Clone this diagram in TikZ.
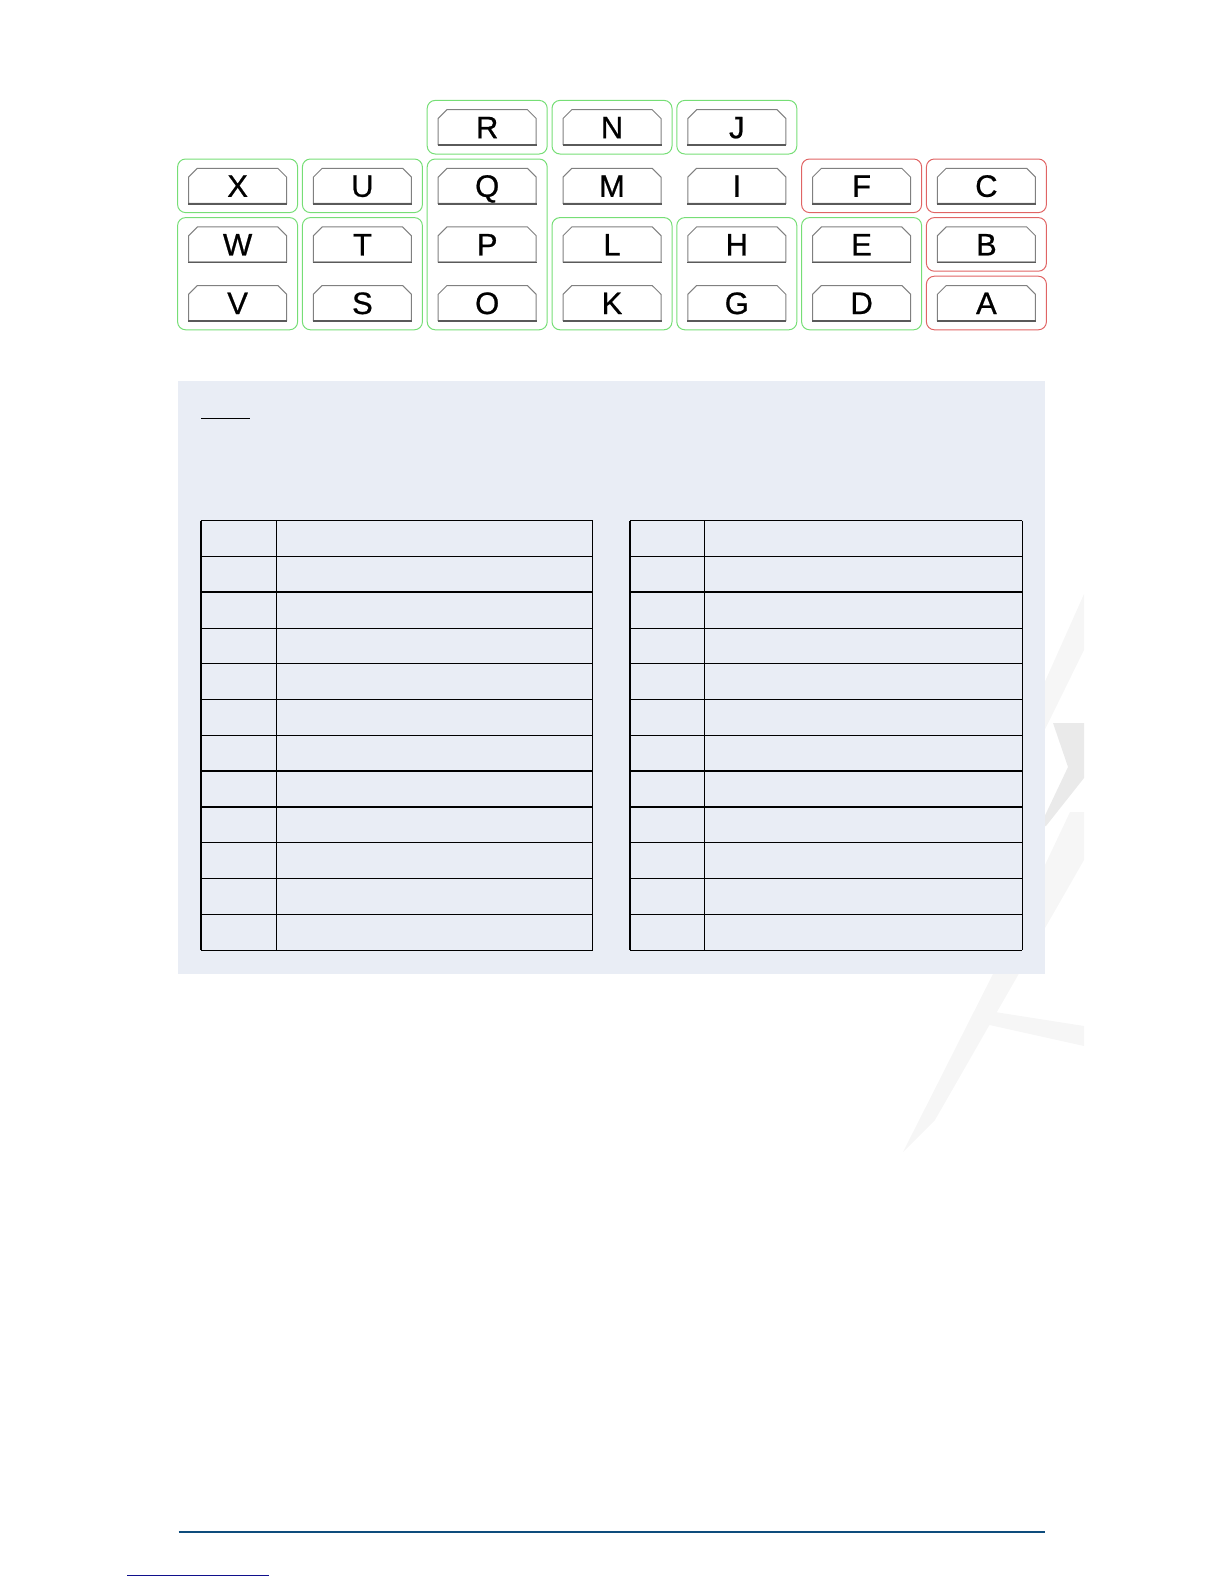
\documentclass[tikz,border=0pt]{standalone}
\usepackage{fontspec}
\setmainfont{Liberation Sans}
\newfontfamily\fusefont[FakeBold=0.7]{Liberation Sans}
\usetikzlibrary{positioning,fit,shapes.misc}
\definecolor{fbgreen}{HTML}{76DE76}
\definecolor{fbred}{HTML}{E06464}
\definecolor{fbgrey}{HTML}{808080}
\definecolor{fbedge}{HTML}{5A5A5A}
\definecolor{fbpanel}{HTML}{E9EDF5}
\definecolor{fbline}{HTML}{0E4C7C}
\definecolor{fbnavy}{HTML}{10108C}
\definecolor{fbmark}{HTML}{F6F6F6}
\definecolor{fbmarkdk}{HTML}{EAEAEA}
\tikzset{
  fuse/.style    ={chamfered rectangle, chamfered rectangle corners={north west,north east},
                   chamfered rectangle xsep=2.2pt, chamfered rectangle ysep=2.2pt,
                   draw=fbgrey, fill=white, line width=0.5pt,
                   minimum width=49pt, minimum height=17.5pt, inner sep=0pt,
                   text height=11pt, text depth=0pt, font=\fusefont\fontsize{15.5}{18}\selectfont},
  fuseedge/.style={draw=fbedge, line width=0.8pt},
  gbox/.style    ={draw=fbgreen, rounded corners=4pt, line width=0.5pt,
                   inner xsep=5.25pt, inner ysep=4.4pt},
  rbox/.style    ={gbox, draw=fbred},
  thinrule/.style={draw=black, line width=0.5pt},
  thickrule/.style={draw=black, line width=0.9pt},
}
\newcommand{\fusetable}[3]{%
  % #1 left, #2 divider, #3 right
  \foreach \k in {0,3,4,5,6,9,10,11,12} {%
    \draw[thinrule] (#1,520.7+35.8*\k) -- (#3,520.7+35.8*\k);%
  }%
  \foreach \k in {1,2,7,8} {%
    \draw[thickrule] (#1,520.7+35.8*\k) -- (#3,520.7+35.8*\k);%
  }%
  \draw[thickrule] (#1,520.7) -- (#1,950.3);%
  \draw[thinrule] (#2,520.7) -- (#2,950.3);%
  \draw[thinrule] (#3,520.7) -- (#3,950.3);%
}

\begin{document}
\begin{tikzpicture}[x=0.5pt, y=-0.5pt]
  \useasboundingbox (0,0) rectangle (1224,1584);

  % ---- faint mark behind the panel ----------------------------------------
  \fill[fbmark] (1084,594) -- (1084,650) -- (1030,760) -- (1010,760) -- cycle;
  \fill[fbmarkdk] (1053,723) -- (1084,723) -- (1084,778) -- (1046,826)
    -- (1040,826) -- (1068,767) -- cycle;
  \fill[fbmark] (1070,812) -- (1084,812) -- (1084,860) -- (935,1120)
    -- (903,1152) -- (1000,960) -- cycle;
  \fill[fbmark] (995,1012) -- (1084,1026) -- (1084,1046) -- (985,1024) -- cycle;

  % ---- fuses --------------------------------------------------------------
  \foreach \col/\row/\lbl in {2/0/R,3/0/N,4/0/J,
      0/1/X,1/1/U,2/1/Q,3/1/M,4/1/I,5/1/F,6/1/C,
      0/2/W,1/2/T,2/2/P,3/2/L,4/2/H,5/2/E,6/2/B,
      0/3/V,1/3/S,2/3/O,3/3/K,4/3/G,5/3/D,6/3/A} {
    \node[fuse] (f\lbl) at (237.6+124.8*\col,127.2+58.6*\row) {\lbl};
    \draw[fuseedge] (f\lbl.south west) -- (f\lbl.south east);
  }

  % ---- groups -------------------------------------------------------------
  \foreach \lbl in {R,N,J,X,U} { \node[gbox, fit=(f\lbl)] (b\lbl) {}; }
  \node[gbox, fit=(fQ)(fO)] (bQO) {};
  \node[gbox, fit=(fW)(fV)] (bWV) {};
  \node[gbox, fit=(fT)(fS)] (bTS) {};
  \node[gbox, fit=(fL)(fK)] (bLK) {};
  \node[gbox, fit=(fH)(fG)] (bHG) {};
  \node[gbox, fit=(fE)(fD)] (bED) {};
  \foreach \lbl in {F,C,B,A} { \node[rbox, fit=(f\lbl)] (b\lbl) {}; }

  % ---- panel with the two tables -----------------------------------------
  \fill[fbpanel] (178.3,381) rectangle (1045,973.5);
  \draw[thinrule] (201,418.3) -- (250,418.3);
  \fusetable{201}{276.3}{592.8}
  \fusetable{630.2}{704.9}{1022}

  % ---- foot ---------------------------------------------------------------
  \draw[fbline, line width=1pt] (178.7,1531.5) -- (1045,1531.5);
  \draw[fbnavy, line width=0.6pt] (127.3,1575.3) -- (268.7,1575.3);
\end{tikzpicture}
\end{document}
